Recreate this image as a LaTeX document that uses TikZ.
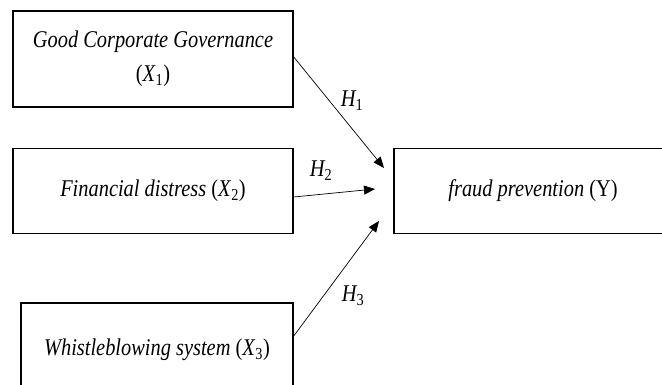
\documentclass[tikz,border=0pt]{standalone}
\usepackage{fontspec}
\setmainfont[FakeStretch=0.85]{Liberation Serif}
\usepackage{tikz}
\usetikzlibrary{arrows.meta,positioning}
\newcommand{\var}[2]{\upshape(\textit{#1}\textsubscript{#2})}
\newcommand{\hyplabel}[1]{\textit{H}\textsubscript{\upshape#1}}

\begin{document}
\begin{tikzpicture}[x=1pt,y=-1pt,
		font=\fontsize{24}{34}\selectfont\itshape,
		box/.style={draw, line width=1.5pt, inner sep=0pt},
		hyp/.style={line width=0.7pt, -{Triangle[length=11pt,width=9pt]}}]
		\useasboundingbox (0,0) rectangle (662,385);
		\clip (0,0) rectangle (662,385);
		% independent variables
		\node[box, minimum width=280, minimum height=96, align=center] (gcg) at (153,59)
		{Good Corporate Governance\\ \var{X}{1}};
		\node[box, minimum width=280, minimum height=85] (fd) at (153,191) {Financial distress \var{X}{2}};
		\node[box, minimum width=272, minimum height=94] (wbs) at (157,350) {Whistleblowing system \var{X}{3}};
		% dependent variable
		\node[box, minimum width=278, minimum height=85] (fp) at (533,191) {fraud prevention \upshape(Y)};
		
		\coordinate (t1) at (384,168);
		\coordinate (t2) at (375,189);
		\coordinate (t3) at (379,221);
		\draw[hyp] (gcg.east |- 0,57) -- (t1);
		\draw[hyp] (fd.east |- 0,197) -- (t2);
		\draw[hyp] (wbs.east |- 0,336) -- (t3);
		\node (h1) at (352,101) {\hyplabel{1}};
		\node (h2) at (321,171) {\hyplabel{2}};
		\node (h3) at (353,296) {\hyplabel{3}};
		\end{tikzpicture}
\end{document}
